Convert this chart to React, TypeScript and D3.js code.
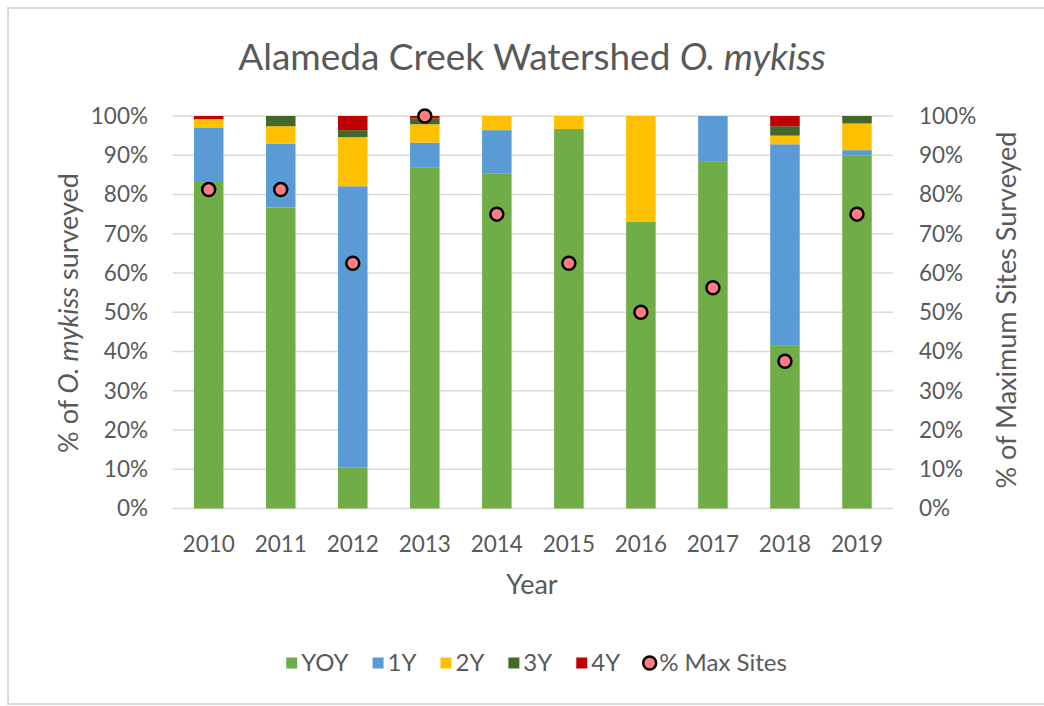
import React, { useEffect, useRef } from "react";
import * as d3 from "d3";

const years = ["2010", "2011", "2012", "2013", "2014", "2015", "2016", "2017", "2018", "2019"];
const yoy = [83.2, 76.7, 10.5, 86.8, 85.4, 96.7, 73.0, 88.5, 41.6, 89.9];
const y1 = [13.9, 16.2, 71.6, 6.4, 11.0, 0, 0, 11.5, 51.2, 1.4];
const y2 = [2.1, 4.5, 12.5, 4.7, 3.6, 3.3, 27.0, 0, 2.2, 6.8];
const y3 = [0, 2.6, 1.8, 1.5, 0, 0, 0, 0, 2.4, 1.9];
const y4 = [0.8, 0, 3.6, 0.6, 0, 0, 0, 0, 2.6, 0];
const maxSites = [81.25, 81.25, 62.5, 100, 75, 62.5, 50, 56.25, 37.5, 75];
const seriesNames = ["YOY", "1Y", "2Y", "3Y", "4Y"];
const seriesColors = ["#70AD47", "#5B9BD5", "#FFC000", "#43682B", "#C00000"];
const tickValues = [0, 10, 20, 30, 40, 50, 60, 70, 80, 90, 100];

const FONT = "Lato, 'Open Sans', sans-serif";
const TXT = "#595959";

export default function App() {
  const ref = useRef<SVGSVGElement>(null);
  useEffect(() => {
    const svg = d3.select(ref.current);
    svg.selectAll("*").remove();
    const W = 1044;
    const left = 172.7, right = 893, top = 116, bottom = 508.5;

    svg.append("rect").attr("x", 8).attr("y", 8).attr("width", W + 10).attr("height", 696)
      .attr("fill", "#fff").attr("stroke", "#D9D9D9").attr("stroke-width", 2);

    const x = d3.scaleBand().domain(years).range([left, right]).paddingInner(0.59).paddingOuter(0.295);
    const y = d3.scaleLinear().domain([0, 100]).range([bottom, top]);

    // gridlines
    svg.append("g").selectAll("line").data(tickValues).join("line")
      .attr("x1", left).attr("x2", right)
      .attr("y1", d => y(d)).attr("y2", d => y(d))
      .attr("stroke", "#D9D9D9").attr("stroke-width", 1.5);

    // stacked bars
    const table = years.map((yr, i) => ({ year: yr, YOY: yoy[i], "1Y": y1[i], "2Y": y2[i], "3Y": y3[i], "4Y": y4[i] }));
    const stack = d3.stack<any>().keys(seriesNames)(table);
    const g = svg.append("g");
    stack.forEach((s, si) => {
      g.append("g").attr("fill", seriesColors[si]).selectAll("rect").data(s).join("rect")
        .attr("x", d => x(d.data.year)!)
        .attr("width", x.bandwidth())
        .attr("y", d => y(d[1]))
        .attr("height", d => Math.max(0, y(d[0]) - y(d[1])));
    });

    // points
    svg.append("g").selectAll("circle").data(maxSites).join("circle")
      .attr("cx", (d, i) => x(years[i])! + x.bandwidth() / 2)
      .attr("cy", d => y(d))
      .attr("r", 6.5)
      .attr("fill", "#FF7C80").attr("stroke", "#000").attr("stroke-width", 2.5);

    const fmt = (d: number) => d + "%";
    // left ticks
    svg.append("g").selectAll("text").data(tickValues).join("text")
      .attr("x", 148).attr("y", d => y(d)).attr("dy", "0.35em")
      .attr("text-anchor", "end").attr("font-family", FONT).attr("font-size", 22.5).attr("fill", TXT)
      .text(fmt);
    // right ticks
    svg.append("g").selectAll("text").data(tickValues).join("text")
      .attr("x", 919).attr("y", d => y(d)).attr("dy", "0.35em")
      .attr("text-anchor", "start").attr("font-family", FONT).attr("font-size", 22.5).attr("fill", TXT)
      .text(fmt);
    // x labels
    svg.append("g").selectAll("text").data(years).join("text")
      .attr("x", d => x(d)! + x.bandwidth() / 2).attr("y", 552)
      .attr("text-anchor", "middle").attr("font-family", FONT).attr("font-size", 22.5).attr("fill", TXT)
      .text(d => d);

    // title
    const t = svg.append("text").attr("x", 532).attr("y", 70).attr("text-anchor", "middle")
      .attr("font-family", FONT).attr("font-size", 37).attr("fill", TXT);
    t.append("tspan").text("Alameda Creek Watershed ");
    t.append("tspan").attr("font-style", "italic").text("O. mykiss");

    // x axis title
    svg.append("text").attr("x", 532).attr("y", 594).attr("text-anchor", "middle")
      .attr("font-family", FONT).attr("font-size", 27).attr("fill", TXT).text("Year");

    // left axis title
    const lt = svg.append("text").attr("transform", "translate(78,313) rotate(-90)").attr("text-anchor", "middle")
      .attr("font-family", FONT).attr("font-size", 27).attr("fill", TXT);
    lt.append("tspan").text("% of ");
    lt.append("tspan").attr("font-style", "italic").text("O. mykiss");
    lt.append("tspan").text(" surveyed");

    // right axis title
    svg.append("text").attr("transform", "translate(1016,310) rotate(-90)").attr("text-anchor", "middle")
      .attr("font-family", FONT).attr("font-size", 27).attr("fill", TXT).text("% of Maximum Sites Surveyed");

    // legend
    const legendY = 663;
    const lg = svg.append("g");
    const items = [...seriesNames.map((n, i) => ({ name: n, color: seriesColors[i], circle: false })),
      { name: "% Max Sites", color: "#FF7C80", circle: true }];
    let cx = 0;
    const gap = 24, sym = 11, symGap = 4;
    items.forEach(it => {
      const ig = lg.append("g").attr("transform", `translate(${cx},0)`);
      if (it.circle) {
        ig.append("circle").attr("cx", sym / 2).attr("cy", legendY).attr("r", 6.5)
          .attr("fill", it.color).attr("stroke", "#000").attr("stroke-width", 2.5);
      } else {
        ig.append("rect").attr("x", 0).attr("y", legendY - sym / 2).attr("width", sym).attr("height", sym)
          .attr("fill", it.color);
      }
      const tx = ig.append("text").attr("x", sym + symGap).attr("y", legendY).attr("dy", "0.35em")
        .attr("font-family", FONT).attr("font-size", 24).attr("fill", TXT).text(it.name);
      const w = (tx.node() as SVGTextElement).getComputedTextLength();
      cx += sym + symGap + w + gap;
    });
    const total = cx - gap;
    lg.attr("transform", `translate(${536.5 - total / 2},0)`);
  }, []);
  return (
    <svg ref={ref} width={1044} height={706}
      style={{ position: "absolute", left: 0, top: 0, display: "block", background: "#fff" }} />
  );
}
